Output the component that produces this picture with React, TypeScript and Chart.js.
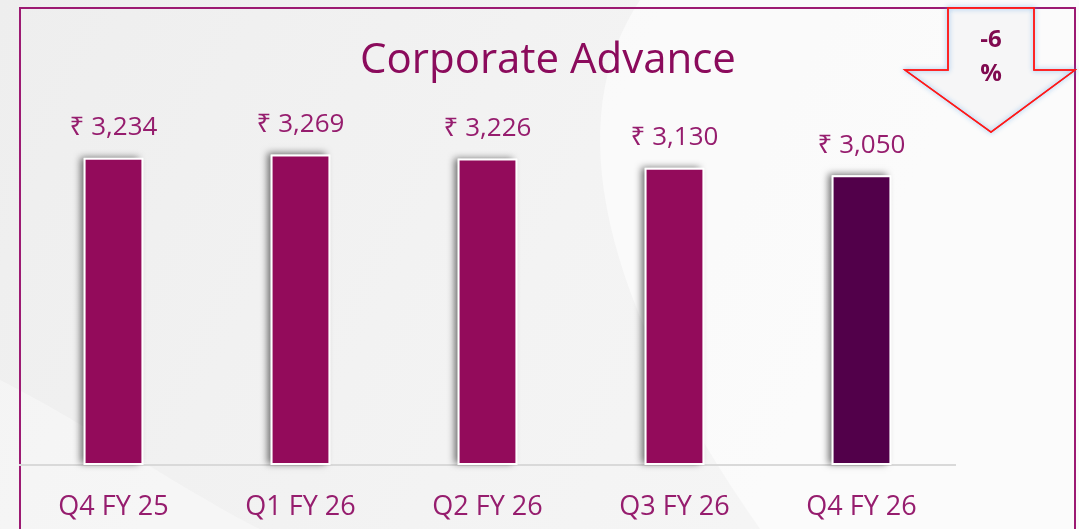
import React, { useEffect, useRef } from "react";
import { Chart, registerables } from "chart.js";

Chart.register(...registerables);

const categories = ["Q4 FY 25", "Q1 FY 26", "Q2 FY 26", "Q3 FY 26", "Q4 FY 26"];
const values = [3234, 3269, 3226, 3130, 3050];
const valueLabels = ["₹ 3,234", "₹ 3,269", "₹ 3,226", "₹ 3,130", "₹ 3,050"];
const barColors = ["#930b5b", "#930b5b", "#930b5b", "#930b5b", "#52004a"];
const titleText = "Corporate Advance";
const changeLines = ["-6", "%"];

const FONT = "'Open Sans', 'Noto Sans', sans-serif";
const TEXT_COLOR = "#961d6e";

const backgroundPlugin = {
  id: "bgPlugin",
  beforeDraw(chart: any) {
    const { ctx, width, height } = chart;
    ctx.save();
    const g = ctx.createLinearGradient(0, 0, width, height);
    g.addColorStop(0, "#eeeeee");
    g.addColorStop(0.5, "#f3f3f3");
    g.addColorStop(1, "#f7f7f7");
    ctx.fillStyle = g;
    ctx.fillRect(0, 0, width, height);
    ctx.fillStyle = "rgba(255,255,255,0.55)";
    ctx.beginPath();
    ctx.moveTo(640, 0);
    ctx.bezierCurveTo(560, 120, 600, 300, 760, 529);
    ctx.lineTo(1079, 529);
    ctx.lineTo(1079, 0);
    ctx.closePath();
    ctx.fill();
    ctx.fillStyle = "rgba(255,255,255,0.35)";
    ctx.beginPath();
    ctx.moveTo(0, 380);
    ctx.bezierCurveTo(80, 420, 200, 500, 260, 529);
    ctx.lineTo(0, 529);
    ctx.closePath();
    ctx.fill();
    ctx.strokeStyle = "#9c1a72";
    ctx.lineWidth = 2;
    ctx.strokeRect(20, 8, 1055, 540);
    ctx.restore();
  },
  beforeDatasetsDraw(chart: any) {
    const { ctx } = chart;
    const meta = chart.getDatasetMeta(0);
    ctx.save();
    ctx.shadowColor = "rgba(0,0,0,0.55)";
    ctx.shadowBlur = 7;
    ctx.shadowOffsetX = -4;
    ctx.shadowOffsetY = -1;
    ctx.fillStyle = "#ffffff";
    meta.data.forEach((bar: any) => {
      const w = bar.width;
      ctx.fillRect(bar.x - w / 2, bar.y, w, bar.base - bar.y);
    });
    ctx.restore();
  },
  afterDraw(chart: any) {
    const { ctx } = chart;
    const meta = chart.getDatasetMeta(0);
    ctx.save();
    ctx.fillStyle = TEXT_COLOR;
    ctx.font = `26px ${FONT}`;
    ctx.textAlign = "center";
    ctx.textBaseline = "middle";
    meta.data.forEach((bar: any, i: number) => {
      ctx.fillText(valueLabels[i], bar.x, bar.y - 30);
    });
    ctx.fillStyle = "#8b0b5c";
    ctx.font = `42px ${FONT}`;
    ctx.fillText(titleText, 548, 61);
    ctx.beginPath();
    ctx.moveTo(948, 8);
    ctx.lineTo(1034, 8);
    ctx.lineTo(1034, 70);
    ctx.lineTo(1075, 70);
    ctx.lineTo(991, 132);
    ctx.lineTo(905, 70);
    ctx.lineTo(948, 70);
    ctx.closePath();
    ctx.fillStyle = "#f6f6f7";
    ctx.fill();
    ctx.shadowColor = "rgba(80,160,235,0.9)";
    ctx.shadowBlur = 5;
    ctx.strokeStyle = "#ff1a1a";
    ctx.lineWidth = 1.5;
    ctx.stroke();
    ctx.shadowColor = "transparent";
    ctx.shadowBlur = 0;
    ctx.stroke();
    ctx.fillStyle = "#800a50";
    ctx.font = `bold 24px ${FONT}`;
    ctx.fillText(changeLines[0], 991, 40);
    ctx.fillText(changeLines[1], 991, 74);
    ctx.restore();
  },
};

export default function App() {
  const ref = useRef<HTMLCanvasElement | null>(null);
  useEffect(() => {
    if (!ref.current) return;
    const chart = new Chart(ref.current, {
      type: "bar",
      data: {
        labels: categories,
        datasets: [
          {
            data: values,
            backgroundColor: barColors,
            borderColor: "#ffffff",
            borderWidth: 2,
            borderSkipped: false,
            barPercentage: 0.32,
            categoryPercentage: 1,
          },
        ],
      },
      options: {
        responsive: false,
        animation: false,
        devicePixelRatio: 1,
        layout: { padding: { left: 20, right: 124, top: 85, bottom: 0 } },
        plugins: { legend: { display: false }, tooltip: { enabled: false }, title: { display: false } },
        scales: {
          x: {
            grid: { display: false, drawTicks: false },
            border: { display: true, color: "#d9d9d9", width: 2 },
            ticks: { color: TEXT_COLOR, font: { family: FONT, size: 27 }, padding: 26 },
            afterFit: (s: any) => {
              s.height = 64;
            },
          },
          y: { display: false, min: 0, max: 4000 },
        },
      },
      plugins: [backgroundPlugin],
    });
    return () => chart.destroy();
  }, []);
  return (
    <div style={{ position: "absolute", left: 0, top: 0, width: 1079, height: 529 }}>
      <canvas ref={ref} width={1079} height={529} />
    </div>
  );
}
